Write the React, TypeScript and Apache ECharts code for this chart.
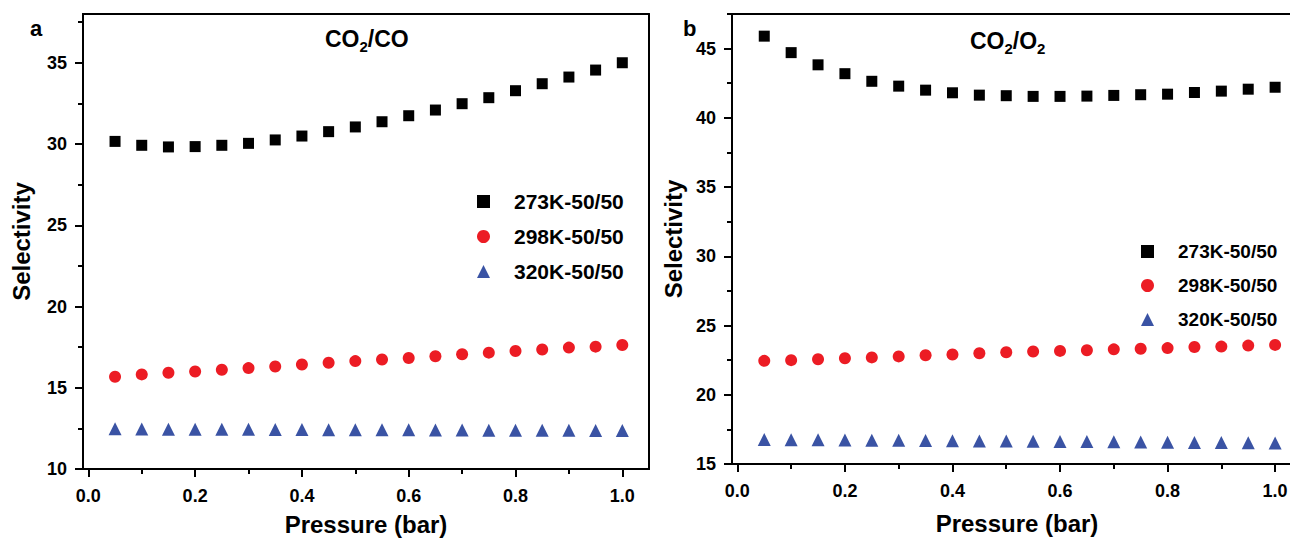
import React, { useEffect, useRef } from "react";
import * as echarts from "echarts";

const pressure = [0.05, 0.1, 0.15, 0.2, 0.25, 0.3, 0.35, 0.4, 0.45, 0.5, 0.55, 0.6, 0.65, 0.7, 0.75, 0.8, 0.85, 0.9, 0.95, 1.0];

// Panel a: CO2/CO
const coK273 = [30.16, 29.92, 29.82, 29.84, 29.92, 30.04, 30.25, 30.49, 30.76, 31.05, 31.37, 31.74, 32.09, 32.48, 32.85, 33.28, 33.71, 34.12, 34.55, 35.0];
const coK298 = [15.68, 15.82, 15.92, 16.0, 16.11, 16.21, 16.31, 16.43, 16.54, 16.64, 16.74, 16.83, 16.94, 17.06, 17.16, 17.26, 17.35, 17.47, 17.53, 17.63];
const coK320 = [12.47, 12.46, 12.45, 12.45, 12.44, 12.44, 12.43, 12.43, 12.42, 12.42, 12.41, 12.41, 12.4, 12.4, 12.39, 12.39, 12.38, 12.38, 12.37, 12.37];

// Panel b: CO2/O2
const o2K273 = [45.9, 44.71, 43.83, 43.19, 42.64, 42.29, 42.0, 41.81, 41.64, 41.6, 41.55, 41.55, 41.57, 41.62, 41.67, 41.71, 41.83, 41.93, 42.07, 42.21];
const o2K298 = [22.45, 22.5, 22.57, 22.64, 22.7, 22.77, 22.85, 22.91, 23.0, 23.07, 23.12, 23.17, 23.22, 23.28, 23.32, 23.37, 23.45, 23.48, 23.55, 23.6];
const o2K320 = [16.77, 16.76, 16.75, 16.74, 16.72, 16.71, 16.7, 16.68, 16.67, 16.66, 16.64, 16.63, 16.62, 16.6, 16.59, 16.57, 16.56, 16.55, 16.53, 16.52];

const seriesNames = ["273K-50/50", "298K-50/50", "320K-50/50"];
const xMajor = [0, 0.2, 0.4, 0.6, 0.8, 1.0];
const xMinor = [0.1, 0.3, 0.5, 0.7, 0.9];
const yMajorA = [10, 15, 20, 25, 30, 35];
const yMinorA = [12.5, 17.5, 22.5, 27.5, 32.5, 37.5];
const yMajorB = [15, 20, 25, 30, 35, 40, 45];
const yMinorB = [17.5, 22.5, 27.5, 32.5, 37.5, 42.5, 47.5];

const FONT = "'Liberation Sans', Arial, sans-serif";
const colors = ["#000000", "#ec1c24", "#3a53a4"];
const symbols = ["rect", "circle", "triangle"];
const symbolSizes = [11, 12, 13];

export default function App() {
  const ref = useRef<HTMLDivElement>(null);
  useEffect(() => {
    if (!ref.current) return;
    const chart = echarts.init(ref.current, undefined, { renderer: "svg" });
    const line = { show: true, onZero: false, lineStyle: { color: "#000", width: 2 } };
    const lbl = { color: "#000", fontFamily: FONT, fontWeight: "bold", fontSize: 18 };

    const panels = [
      { grid: { left: 83, top: 14, right: 641, bottom: 72, outerBoundsMode: "none", containLabel: false }, ymin: 10, ymax: 38, ymaj: yMajorA, ymin2: yMinorA, xName: 43, yName: 50, vals: [coK273, coK298, coK320] },
      { grid: { left: 732, top: 14, right: -12, bottom: 77, outerBoundsMode: "none", containLabel: false }, ymin: 15, ymax: 47.5, ymaj: yMajorB, ymin2: yMinorB, xName: 47, yName: 47, vals: [o2K273, o2K298, o2K320] },
    ];

    const grid: any[] = [];
    const xAxis: any[] = [];
    const yAxis: any[] = [];
    const series: any[] = [];

    panels.forEach((p, gi) => {
      grid.push(p.grid);
      const xBase = xAxis.length;
      xAxis.push({
        type: "value", gridIndex: gi, position: "bottom", min: -0.01, max: 1.05,
        axisLine: line,
        axisTick: { show: true, inside: false, length: 8, lineStyle: { width: 2, color: "#000" }, customValues: xMajor },
        axisLabel: { ...lbl, margin: 18, customValues: xMajor, formatter: (v: number) => v.toFixed(1) },
        splitLine: { show: false },
        name: "Pressure (bar)", nameLocation: "middle", nameGap: p.xName,
        nameTextStyle: { color: "#000", fontFamily: FONT, fontWeight: "bold", fontSize: 24 },
      });
      xAxis.push({
        type: "value", gridIndex: gi, position: "bottom", min: -0.01, max: 1.05,
        axisLine: line,
        axisTick: { show: true, inside: false, length: 5, lineStyle: { width: 2, color: "#000" }, customValues: xMinor },
        axisLabel: { show: false }, splitLine: { show: false },
      });
      xAxis.push({
        type: "value", gridIndex: gi, position: "top", min: -0.01, max: 1.05,
        axisLine: line, axisTick: { show: false }, axisLabel: { show: false }, splitLine: { show: false },
      });
      const yBase = yAxis.length;
      yAxis.push({
        type: "value", gridIndex: gi, position: "left", min: p.ymin, max: p.ymax,
        axisLine: line,
        axisTick: { show: true, inside: false, length: 8, lineStyle: { width: 2, color: "#000" }, customValues: p.ymaj },
        axisLabel: { ...lbl, margin: 16, customValues: p.ymaj },
        splitLine: { show: false },
        name: "Selectivity", nameLocation: "middle", nameGap: p.yName, nameRotate: 90,
        nameTextStyle: { color: "#000", fontFamily: FONT, fontWeight: "bold", fontSize: 24 },
      });
      yAxis.push({
        type: "value", gridIndex: gi, position: "left", min: p.ymin, max: p.ymax,
        axisLine: line,
        axisTick: { show: true, inside: false, length: 5, lineStyle: { width: 2, color: "#000" }, customValues: p.ymin2 },
        axisLabel: { show: false }, splitLine: { show: false },
      });
      yAxis.push({
        type: "value", gridIndex: gi, position: "right", min: p.ymin, max: p.ymax,
        axisLine: line, axisTick: { show: false }, axisLabel: { show: false }, splitLine: { show: false },
      });
      p.vals.forEach((vals, si) => {
        series.push({
          type: "scatter", name: seriesNames[si], xAxisIndex: xBase, yAxisIndex: yBase,
          symbol: symbols[si], symbolSize: symbolSizes[si],
          itemStyle: { color: colors[si], opacity: 1 },
          data: pressure.map((x, i) => [x, vals[i]]),
          z: 5,
        });
      });
    });

    const legendBase = {
      orient: "vertical", itemWidth: 13, itemHeight: 13,
      data: seriesNames, selectedMode: false,
    };

    const titleRich = {
      m: { fontFamily: FONT, fontWeight: "bold", fontSize: 23, lineHeight: 30, color: "#000" },
      s: { fontFamily: FONT, fontWeight: "bold", fontSize: 15, lineHeight: 15, verticalAlign: "bottom", color: "#000" },
    };

    chart.setOption({
      animation: false,
      backgroundColor: "#ffffff",
      grid,
      xAxis,
      yAxis,
      series,
      legend: [
        { ...legendBase, left: 472, top: 186, itemGap: 14,
          textStyle: { color: "#000", fontFamily: FONT, fontWeight: "bold", fontSize: 21, padding: [0, 0, 0, 19] } },
        { ...legendBase, left: 1136, top: 237, itemGap: 15,
          textStyle: { color: "#000", fontFamily: FONT, fontWeight: "bold", fontSize: 19, padding: [0, 0, 0, 19] } },
      ],
      graphic: [
        { type: "text", left: 30, top: 17, style: { text: "a", fontFamily: FONT, fontWeight: "bold", fontSize: 22, fill: "#000" } },
        { type: "text", left: 683, top: 17, style: { text: "b", fontFamily: FONT, fontWeight: "bold", fontSize: 22, fill: "#000" } },
        { type: "text", left: 325, top: 27, style: { text: "{m|CO}{s|2}{m|/CO}", rich: titleRich } },
        { type: "text", left: 970, top: 29, style: { text: "{m|CO}{s|2}{m|/O}{s|2}", rich: titleRich } },
      ],
    });
    return () => chart.dispose();
  }, []);
  return <div ref={ref} style={{ position: "fixed", left: 0, top: 0, width: 1290, height: 541 }} />;
}
